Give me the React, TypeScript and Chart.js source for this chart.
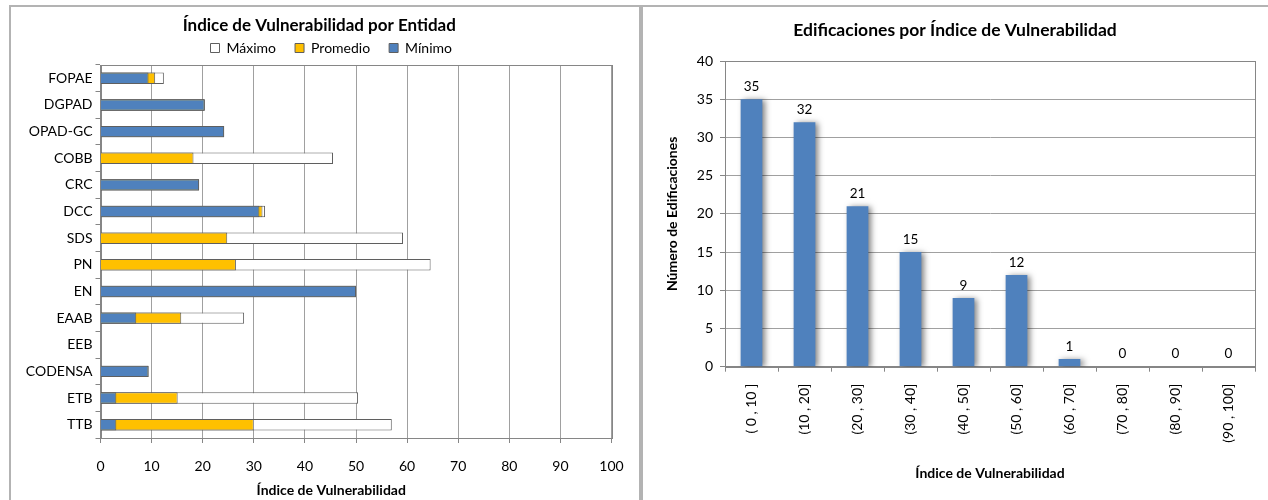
import { useEffect, useRef } from "react";
import { Chart, registerables } from "chart.js";

Chart.register(...registerables);

const FONT = "Lato, 'Open Sans', sans-serif";

// Vulnerability index per entity (minimum / average / maximum)
const entities = [
  "FOPAE", "DGPAD", "OPAD-GC", "COBB", "CRC", "DCC", "SDS",
  "PN", "EN", "EAAB", "EEB", "CODENSA", "ETB", "TTB",
];
const maximo = [12.4, 20.4, 24.2, 45.5, 19.3, 32.2, 59.2, 64.6, 50, 28.1, 0, 9.4, 50.4, 57.0];
const promedio = [10.7, 20.4, 24.2, 18.2, 19.3, 31.7, 24.8, 26.5, 50, 15.8, 0, 9.4, 15.1, 30.0];
const minimo = [9.4, 20.4, 24.2, 0, 19.3, 31.1, 0, 0, 50, 7.0, 0, 9.4, 3.1, 3.1];

// Buildings per vulnerability-index range
const ranges = [
  "( 0 , 10 ]", "(10 , 20]", "(20 , 30]", "(30 , 40]", "(40 , 50]",
  "(50 , 60]", "(60 , 70]", "(70 , 80]", "(80 , 90]", "(90 , 100]",
];
const buildings = [35, 32, 21, 15, 9, 12, 1, 0, 0, 0];

const BLUE = "#4F81BD";
const GOLD = "#FFC000";
const GRID = "#a0a0a0";
const AXIS = "#868686";
const EDGE = "#5f5f5f";

// Thin outline around the plotting area, drawn beneath the bars
const plotFrame = {
  id: "plotFrame",
  beforeDatasetsDraw(chart: any) {
    const { ctx, chartArea: a } = chart;
    ctx.save();
    ctx.strokeStyle = AXIS;
    ctx.lineWidth = 1;
    const l = Math.round(a.left) + 0.5;
    const t = Math.round(a.top) + 0.5;
    ctx.strokeRect(l, t, Math.round(a.right) - Math.round(a.left), Math.round(a.bottom) - Math.round(a.top));
    ctx.restore();
  },
};

// Slide the legend and the bottom caption a little to the right of the canvas centre
const nudgeBlocks = {
  id: "nudgeBlocks",
  afterLayout(chart: any) {
    const dx = 12;
    const blocks = chart.boxes.filter(
      (b: any) => b === chart.legend || (b.position === "bottom" && !b.axis)
    );
    blocks.forEach((b: any) => {
      b.left += dx;
      b.right += dx;
    });
  },
};

// Soft drop shadow under the columns plus the value printed above each one
const shadowAndValues = {
  id: "shadowAndValues",
  beforeDatasetsDraw(chart: any) {
    const { ctx } = chart;
    ctx.save();
    ctx.shadowColor = "rgba(0,0,0,0.5)";
    ctx.shadowBlur = 6;
    ctx.shadowOffsetX = 3;
    ctx.shadowOffsetY = 1;
  },
  afterDatasetsDraw(chart: any) {
    const { ctx } = chart;
    ctx.restore();
    ctx.save();
    ctx.fillStyle = "#000";
    ctx.font = `13.5px ${FONT}`;
    ctx.textAlign = "center";
    ctx.textBaseline = "bottom";
    const meta = chart.getDatasetMeta(0);
    const values = chart.data.datasets[0].data;
    meta.data.forEach((bar: any, i: number) => {
      ctx.fillText(String(values[i]), bar.x, bar.y - 6);
    });
    ctx.restore();
  },
};

const tickFont = { family: FONT, size: 14 };
const titleFont = { family: FONT, size: 17, weight: "bold" as const, lineHeight: 1 };
const axisTitleFont = { family: FONT, size: 14, weight: "bold" as const, lineHeight: 1.2 };

export default function App() {
  const leftRef = useRef<HTMLCanvasElement>(null);
  const rightRef = useRef<HTMLCanvasElement>(null);

  useEffect(() => {
    const left = new Chart(leftRef.current!, {
      type: "bar",
      data: {
        labels: entities,
        datasets: [
          { label: "Mínimo", data: minimo, backgroundColor: BLUE, borderColor: EDGE, borderWidth: 1 },
          { label: "Promedio", data: promedio, backgroundColor: GOLD, borderColor: EDGE, borderWidth: 1 },
          { label: "Máximo", data: maximo, backgroundColor: "#FFFFFF", borderColor: EDGE, borderWidth: 1 },
        ],
      },
      options: {
        indexAxis: "y",
        responsive: false,
        animation: false,
        layout: { padding: { left: 12, right: 23.5, top: 0, bottom: 0 } },
        datasets: { bar: { grouped: false, categoryPercentage: 1, barPercentage: 0.43 } },
        plugins: {
          title: {
            display: true,
            text: "Índice de Vulnerabilidad por Entidad",
            color: "#000",
            font: titleFont,
            // the legend below starts right under the text baseline area
            padding: { top: 10.5, bottom: -12.5 },
          },
          legend: {
            display: true,
            reverse: true,
            labels: { boxWidth: 9, boxHeight: 9, padding: 19, color: "#000", font: tickFont },
          },
          subtitle: {
            display: true,
            position: "bottom",
            text: "Índice de Vulnerabilidad",
            color: "#000",
            font: axisTitleFont,
            padding: { top: 3, bottom: 1.6 },
          },
          tooltip: { enabled: false },
        },
        scales: {
          x: {
            type: "linear",
            min: 0,
            max: 100,
            ticks: { stepSize: 10, padding: 15.3, color: "#000", font: tickFont },
            grid: { color: GRID, tickColor: AXIS, tickLength: 5 },
            border: { color: AXIS },
            afterFit(scale: any) {
              scale.height = 40.6;
            },
          },
          y: {
            ticks: { padding: 3, color: "#000", font: tickFont },
            grid: { offset: true, drawOnChartArea: false, color: AXIS, tickLength: 5 },
            border: { color: AXIS },
            afterFit(scale: any) {
              scale.width = 77.5;
            },
          },
        },
      },
      plugins: [plotFrame, nudgeBlocks],
    });

    const right = new Chart(rightRef.current!, {
      type: "bar",
      data: {
        labels: ranges,
        datasets: [
          {
            label: "Número de Edificaciones",
            data: buildings,
            backgroundColor: BLUE,
            borderWidth: 0,
            categoryPercentage: 1,
            barPercentage: 0.41,
          },
        ],
      },
      options: {
        responsive: false,
        animation: false,
        layout: { padding: { left: 12, right: 13, top: 0, bottom: 0 } },
        plugins: {
          legend: { display: false },
          tooltip: { enabled: false },
          title: {
            display: true,
            text: "Edificaciones por Índice de Vulnerabilidad",
            color: "#000",
            font: { ...titleFont, size: 17.5 },
            padding: { top: 14.25, bottom: 22.25 },
          },
        },
        scales: {
          x: {
            ticks: {
              minRotation: 90,
              maxRotation: 90,
              autoSkip: false,
              padding: 12,
              color: "#000",
              font: tickFont,
            },
            grid: { offset: true, drawOnChartArea: false, color: AXIS, tickLength: 5 },
            border: { color: AXIS },
            title: {
              display: true,
              text: "Índice de Vulnerabilidad",
              color: "#000",
              font: axisTitleFont,
              padding: { top: 0, bottom: 18.6 },
            },
            afterFit(scale: any) {
              scale.height = 133.3;
            },
          },
          y: {
            min: 0,
            max: 40,
            ticks: { stepSize: 5, padding: 7, color: "#000", font: tickFont },
            grid: { color: GRID, tickColor: AXIS, tickLength: 5 },
            border: { color: AXIS },
            title: {
              display: true,
              text: "Número de Edificaciones",
              color: "#000",
              font: axisTitleFont,
              padding: { top: 8.6, bottom: 0 },
            },
            afterFit(scale: any) {
              scale.width = 70;
            },
          },
        },
      },
      plugins: [plotFrame, shadowAndValues],
    });

    return () => {
      left.destroy();
      right.destroy();
    };
  }, []);

  const panel = (left: number, width: number): React.CSSProperties => ({
    position: "absolute",
    left,
    top: 5,
    width,
    height: 500,
    border: "2px solid #b3b3b3",
    background: "#fff",
  });

  return (
    <div
      style={{
        position: "fixed",
        left: 0,
        top: 0,
        width: 1268,
        height: 500,
        overflow: "hidden",
        background: "#fff",
      }}
    >
      <div style={panel(9, 628)}>
        <canvas ref={leftRef} width={628} height={493} style={{ display: "block" }} />
      </div>
      <div style={panel(641, 640)}>
        <canvas ref={rightRef} width={625} height={493} style={{ display: "block" }} />
      </div>
    </div>
  );
}
